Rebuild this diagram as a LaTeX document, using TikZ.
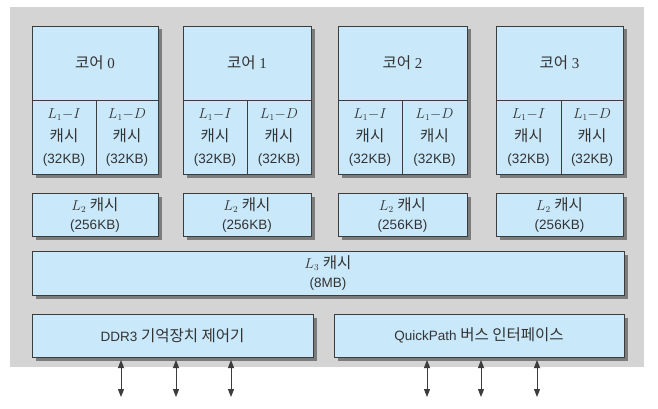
\documentclass[tikz,border=0pt]{standalone}
\usepackage{fontspec}
\setmainfont{Liberation Serif}
\setsansfont{Liberation Sans}
\newfontfamily\krfont[Scale=1.15]{Noto Sans CJK KR}
\usetikzlibrary{arrows.meta,backgrounds,calc}
\definecolor{bgray}{HTML}{D4D4D4}
\definecolor{boxfill}{HTML}{C9E8FA}
\definecolor{boxline}{HTML}{3C3C3C}
\definecolor{shadowc}{HTML}{7C7C7C}
\definecolor{txt}{HTML}{333333}
\newcommand{\hg}[1]{{\krfont #1}}
\begin{document}
\begin{tikzpicture}[x=1pt,y=-1pt,
  box/.style={draw=boxline, line width=0.9pt, fill=boxfill, inner sep=0pt, outer sep=0pt,
    anchor=north west, align=center, text=txt,
    font=\fontsize{13.5}{19}\selectfont\sffamily},
  l1box/.style={box, font=\fontsize{13.5}{22}\selectfont\sffamily},
  shadowbox/.style={fill=shadowc},
  bus/.style={{Triangle[length=8pt,width=6pt]}-{Triangle[length=8pt,width=6pt]}, line width=1pt, draw=boxline}]
\useasboundingbox (0,0) rectangle (658,409);
% cores
\foreach \i/\x/\s/\r in {0/32/96/158, 1/183/247/311, 2/338/402/467, 3/496/561/623}{
  \pgfmathsetmacro{\wa}{\r-\x}
  \pgfmathsetmacro{\wb}{\s-\x}
  \pgfmathsetmacro{\wc}{\r-\s}
  \node[box, minimum width=\wa pt, minimum height=74pt] (core\i) at (\x,26) {\hg{코어} {\rmfamily\fontsize{15}{19}\selectfont\i}};
  \node[l1box, minimum width=\wb pt, minimum height=74pt] (l1i\i) at (\x,100) {$L_1{-}I$\\[1pt]\hg{캐시}\\(32KB)};
  \node[l1box, minimum width=\wc pt, minimum height=74pt] (l1d\i) at (\s,100) {$L_1{-}D$\\[1pt]\hg{캐시}\\(32KB)};
  \node[box, minimum width=\wa pt, minimum height=43pt] (l2\i) at (\x,193) {$L_2$ \hg{캐시}\\(256KB)};
}
\node[box, minimum width=592pt, minimum height=44pt] (l3) at (32,251) {$L_3$ \hg{캐시}\\(8MB)};
\node[box, minimum width=281pt, minimum height=43pt] (ddr) at (32,314) {DDR3 \hg{기억장치 제어기}};
\node[box, minimum width=290pt, minimum height=43pt] (qpi) at (334,314) {QuickPath \hg{버스 인터페이스}};
\begin{scope}[on background layer]
  \fill[white] (0,0) rectangle (658,409);
  \fill[bgray] (10,7) rectangle (644,367);
  \foreach \i in {0,1,2,3}{
    \fill[shadowbox] ($(core\i.north west)+(3.5,3.5)$) rectangle ($(l1d\i.south east)+(3.5,3.5)$);
    \fill[shadowbox] ($(l2\i.north west)+(3.5,3.5)$) rectangle ($(l2\i.south east)+(3.5,3.5)$);
  }
  \foreach \n in {l3,ddr,qpi}{
    \fill[shadowbox] ($(\n.north west)+(3.5,3.5)$) rectangle ($(\n.south east)+(3.5,3.5)$);
  }
\end{scope}
% bus arrows
\foreach \n/\x in {1/121, 2/176, 3/231, 4/427, 5/481, 6/537}{
  \coordinate (t\n) at (\x,360);
  \coordinate (b\n) at (\x,397);
  \draw[bus] (t\n) -- (b\n);
}
\end{tikzpicture}
\end{document}
